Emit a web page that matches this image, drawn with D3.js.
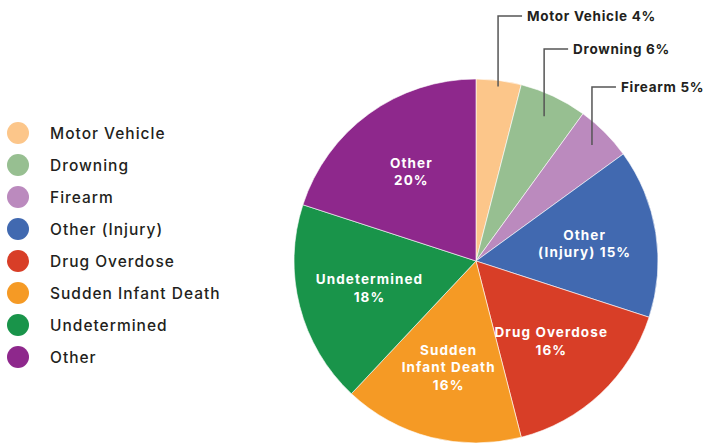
<!DOCTYPE html>
<html>
<head>
<meta charset="utf-8">
<script src="https://cdn.jsdelivr.net/npm/d3@7"></script>
<style>
  html, body { margin: 0; padding: 0; background: #fff; }
  svg { display: block; font-family: Inter, "Open Sans", sans-serif; }
</style>
</head>
<body>
<div id="chart"></div>
<script>
// chart data
const categories = ["Motor Vehicle", "Drowning", "Firearm", "Other (Injury)", "Drug Overdose", "Sudden Infant Death", "Undetermined", "Other"];
const values = [4, 6, 5, 15, 16, 16, 18, 20];
const colors = ["#fcc68a", "#97bf91", "#bb8abe", "#4169b0", "#d83e27", "#f59a25", "#19944a", "#8e288c"];
// slice labels (inside) split into lines, null = callout outside
const sliceLabels = [null, null, null, ["Other", "(Injury) 15%"], ["Drug Overdose", "16%"], ["Sudden", "Infant Death", "16%"], ["Undetermined", "18%"], ["Other", "20%"]];
const calloutLabels = ["Motor Vehicle 4%", "Drowning 6%", "Firearm 5%"];

const width = 706, height = 445;
const cx = 476, cy = 261, radius = 182;

let svg = d3.select("#chart")
	.append("svg")
	.attr("width", width)
	.attr("height", height);

let data = categories.map(function(c, i) { return {name: c, value: values[i], color: colors[i], label: sliceLabels[i]}; });

let pie = d3.pie().sort(null).value(function(d) { return d.value; });
let arc = d3.arc().innerRadius(0).outerRadius(radius);
let labelArc = d3.arc().innerRadius(110).outerRadius(110);

let g = svg.append("g").attr("transform", "translate(" + cx + "," + cy + ")");
let arcs = pie(data);

//slices
g.selectAll(".slice")
	.data(arcs)
	.enter()
	.append("path")
	.attr("class", "slice")
	.attr("d", arc)
	.attr("fill", function(d) { return d.data.color; })
	.attr("stroke", "#fff")
	.attr("stroke-width", 0.6);

//inside labels
let lineH = 17.3;
g.selectAll(".inlabel")
	.data(arcs.filter(function(d) { return d.data.label; }))
	.enter()
	.append("text")
	.attr("class", "inlabel")
	.attr("text-anchor", "middle")
	.attr("fill", "#fff")
	.style("font-size", "13.5px")
	.style("font-weight", 700)
	.style("letter-spacing", "1.1px")
	.each(function(d) {
		let c = labelArc.centroid(d);
		let lines = d.data.label;
		let y0 = c[1] - (lines.length - 1) * lineH / 2;
		let t = d3.select(this);
		lines.forEach(function(l, i) {
			t.append("tspan")
				.attr("x", c[0])
				.attr("y", y0 + i * lineH)
				.attr("dy", "0.35em")
				.text(l);
		});
	});

//callouts for the small slices
let calloutY = [16, 49, 87];
let calloutR = [176, 160, 164];
arcs.slice(0, 3).forEach(function(d, i) {
	let a = (d.startAngle + d.endAngle) / 2;
	let x0 = Math.sin(a) * calloutR[i];
	let y0 = -Math.cos(a) * calloutR[i];
	let ly = calloutY[i] - cy;
	g.append("polyline")
		.attr("points", [[x0, y0], [x0, ly], [x0 + 24, ly]].map(function(p) { return p.join(","); }).join(" "))
		.attr("fill", "none")
		.attr("stroke", "#555")
		.attr("stroke-width", 1.5);
	g.append("text")
		.attr("x", x0 + 29)
		.attr("y", ly)
		.attr("dy", "0.35em")
		.attr("fill", "#231f20")
		.style("font-size", "13.5px")
		.style("font-weight", 700)
		.style("letter-spacing", "0.7px")
		.text(calloutLabels[i]);
});

//legend
let legend = svg.append("g").attr("class", "legend");
let ly = d3.scalePoint().domain(categories).range([133, 357]);
let item = legend.selectAll(".item")
	.data(data)
	.enter()
	.append("g")
	.attr("class", "item")
	.attr("transform", function(d) { return "translate(0," + ly(d.name) + ")"; });
item.append("circle")
	.attr("cx", 18)
	.attr("cy", 0)
	.attr("r", 11)
	.attr("fill", function(d) { return d.color; });
item.append("text")
	.attr("x", 50)
	.attr("y", 1)
	.attr("dy", "0.35em")
	.attr("fill", "#231f20")
	.style("font-size", "15.5px")
	.style("font-weight", 500)
	.style("letter-spacing", "1px")
	.text(function(d) { return d.name; });
</script>
</body>
</html>
